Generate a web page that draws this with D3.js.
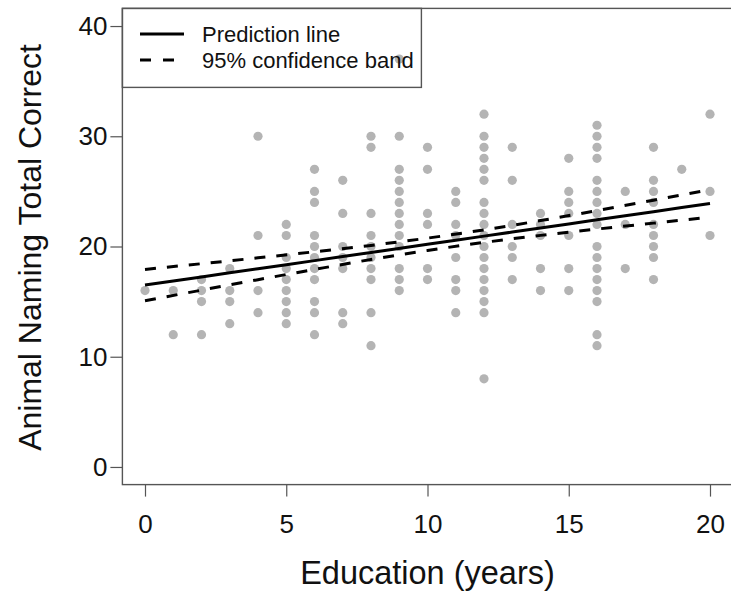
<!DOCTYPE html>
<html>
<head>
<meta charset="utf-8">
<script src="https://cdn.jsdelivr.net/npm/d3@7"></script>
<style>
  body { margin: 0; background: #fff; }
  svg text { font-family: "Liberation Sans", Arial, sans-serif; fill: #111; }
</style>
</head>
<body>
<svg id="chart"></svg>
<script>
// education years 0..20, each with the animal naming scores seen in that column
const educationYears = d3.range(0, 21);
const scoresByYear = [
    [16],
    [16, 12],
    [17, 16, 15, 12],
    [18, 16, 15, 13],
    [30, 21, 16, 14],
    [22, 21, 19, 18, 17, 16, 15, 14, 13],
    [27, 25, 24, 21, 20, 19, 18, 17, 15, 14, 12],
    [26, 23, 20, 19, 18, 14, 13],
    [30, 29, 23, 21, 20, 19, 18, 17, 14, 11],
    [37, 30, 27, 26, 25, 24, 23, 22, 21, 20, 18, 17, 16],
    [29, 27, 23, 22, 18, 17],
    [25, 24, 22, 21, 19, 17, 16, 14],
    [32, 30, 29, 28, 27, 26, 24, 23, 22, 21, 20, 19, 18, 17, 16, 15, 14, 8],
    [29, 26, 22, 20, 19, 17],
    [23, 22, 21, 18, 16],
    [28, 25, 24, 23, 21, 18, 16],
    [31, 30, 29, 28, 26, 25, 24, 23, 22, 20, 19, 18, 17, 16, 15, 12, 11],
    [25, 22, 18],
    [29, 26, 25, 24, 22, 21, 20, 19, 17],
    [27],
    [32, 25, 21]
];

// prediction line and 95% band
const fitX = [0, 2, 4, 6, 8, 10, 12, 14, 16, 18, 20];
const fitY = [16.5, 17.24, 17.98, 18.72, 19.46, 20.2, 20.94, 21.68, 22.42, 23.16, 23.9];
const bandUpper = [17.92, 18.44, 18.97, 19.52, 20.10, 20.76, 21.51, 22.35, 23.26, 24.20, 25.15];
const bandLower = [15.08, 16.04, 16.99, 17.92, 18.82, 19.64, 20.37, 21.01, 21.58, 22.12, 22.65];

const xTicks = [0, 5, 10, 15, 20];
const yTicks = [0, 10, 20, 30, 40];

const legendItems = [
    { label: 'Prediction line', dash: null },
    { label: '95% confidence band', dash: '11,12' }
];

const W = 731, H = 594;
const svg = d3.select('#chart').attr('width', W).attr('height', H);

// R style: axis range padded 4% on each side
const x = d3.scaleLinear().domain([-0.8, 20.8]).range([122.4, 732.6]);
const y = d3.scaleLinear().domain([-1.6, 41.6]).range([484.6, 8.4]);

const axisColor = '#555';

// points
const points = [];
educationYears.forEach(function(yr, i) {
    scoresByYear[i].forEach(function(s) { points.push({ edu: yr, score: s }); });
});

svg.append('g').selectAll('circle')
    .data(points)
    .enter().append('circle')
    .attr('cx', d => x(d.edu))
    .attr('cy', d => y(d.score))
    .attr('r', 4.6)
    .attr('fill', '#b4b4b4');

// fit lines
const line = d3.line().x((d, i) => x(fitX[i])).y(d => y(d)).curve(d3.curveMonotoneX);

svg.append('path').attr('d', line(fitY))
    .attr('fill', 'none').attr('stroke', '#000').attr('stroke-width', 3);

[bandUpper, bandLower].forEach(function(band) {
    svg.append('path').attr('d', line(band))
        .attr('fill', 'none').attr('stroke', '#000').attr('stroke-width', 3)
        .attr('stroke-dasharray', '11,11');
});

// axes
const xAxis = svg.append('g')
    .attr('transform', 'translate(0,' + y.range()[0] + ')')
    .call(d3.axisBottom(x).tickValues(xTicks).tickSize(12).tickPadding(18));

const yAxis = svg.append('g')
    .attr('transform', 'translate(' + x.range()[0] + ',0)')
    .call(d3.axisLeft(y).tickValues(yTicks).tickSize(12).tickPadding(3));

[xAxis, yAxis].forEach(function(g) {
    g.select('.domain').remove();
    g.selectAll('line').attr('stroke', axisColor).attr('stroke-width', 1.2);
    g.selectAll('text').style('font-size', '26px').attr('fill', '#111')
        .style('font-family', '"Liberation Sans", Arial, sans-serif');
});

// plot box
svg.append('rect')
    .attr('x', x.range()[0]).attr('y', y.range()[1])
    .attr('width', x.range()[1] - x.range()[0])
    .attr('height', y.range()[0] - y.range()[1])
    .attr('fill', 'none').attr('stroke', axisColor).attr('stroke-width', 1.4);

// axis titles
svg.append('text')
    .attr('x', (x.range()[0] + x.range()[1]) / 2).attr('y', 584)
    .attr('text-anchor', 'middle').style('font-size', '32.5px')
    .text('Education (years)');

svg.append('text')
    .attr('transform', 'translate(41,' + ((y.range()[0] + y.range()[1]) / 2 + 1) + ') rotate(-90)')
    .attr('text-anchor', 'middle').style('font-size', '32px')
    .text('Animal Naming Total Correct');

// legend
const legend = svg.append('g');
legend.append('rect')
    .attr('x', x.range()[0]).attr('y', y.range()[1])
    .attr('width', 299).attr('height', 79)
    .attr('fill', 'none').attr('stroke', axisColor).attr('stroke-width', 1.4);

legendItems.forEach(function(item, i) {
    const ly = 34 + i * 26;
    const l = legend.append('line')
        .attr('x1', 140).attr('x2', 184).attr('y1', ly).attr('y2', ly)
        .attr('stroke', '#000').attr('stroke-width', 3);
    if (item.dash) l.attr('stroke-dasharray', item.dash);
    legend.append('text')
        .attr('x', 202).attr('y', ly + 8)
        .style('font-size', '22px')
        .text(item.label);
});
</script>
</body>
</html>
